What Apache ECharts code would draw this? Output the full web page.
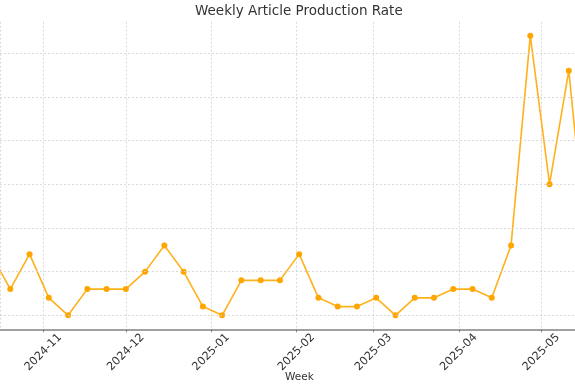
<!DOCTYPE html>
<html>
<head>
<meta charset="utf-8">
<script src="https://cdn.jsdelivr.net/npm/echarts@6/dist/echarts.min.js"></script>
<style>
html,body{margin:0;padding:0;background:#fff;}
#chart{width:575px;height:390px;}
</style>
</head>
<body>
<div id="chart"></div>
<script>
// Week-ending dates (Sundays) and article counts per week
const weeks = ['2024-10-13','2024-10-20','2024-10-27','2024-11-03','2024-11-10','2024-11-17','2024-11-24',
  '2024-12-01','2024-12-08','2024-12-15','2024-12-22','2024-12-29','2025-01-05','2025-01-12','2025-01-19',
  '2025-01-26','2025-02-02','2025-02-09','2025-02-16','2025-02-23','2025-03-02','2025-03-09','2025-03-16',
  '2025-03-23','2025-03-30','2025-04-06','2025-04-13','2025-04-20','2025-04-27','2025-05-04','2025-05-11','2025-05-18'];
const articles = [7,3,7,2,0,3,3,3,5,8,5,1,0,4,4,4,7,2,1,1,2,0,2,2,3,3,2,8,32,15,28,6];
const gridValues = [0,5,10,15,20,25,30];
const titleText = 'Weekly Article Production Rate';
const xLabel = 'Week';

const DAY = 86400000;
const ref = new Date(2024,10,1).getTime();
const xMin = ref - 15.74*DAY;
const xMax = ref + 193.25*DAY;

const chart = echarts.init(document.getElementById('chart'), null, {renderer:'canvas'});
chart.setOption({
  animation:false,
  backgroundColor:'#fff',
  title:[
    {text:titleText, left:195, top:4, padding:0, textStyle:{fontFamily:'DejaVu Sans', fontSize:13.5, fontWeight:'normal', color:'#333'}},
    {text:xLabel, left:285, top:372, padding:0, textStyle:{fontFamily:'DejaVu Sans', fontSize:10.5, fontWeight:'normal', color:'#333'}}
  ],
  grid:{left:0, right:0, top:21.7, bottom:60.7, containLabel:false},
  xAxis:{
    type:'time', min:xMin, max:xMax,
    minInterval:28*DAY, maxInterval:31*DAY,
    axisLine:{onZero:false, lineStyle:{color:'#808080', width:1.5}},
    axisTick:{show:true, length:3, lineStyle:{color:'#808080'}},
    axisLabel:{formatter:'{yyyy}-{MM}', rotate:45, align:'center', verticalAlign:'middle', margin:23,
      fontFamily:'DejaVu Sans', fontSize:11.25, color:'#333', showMinLabel:false, showMaxLabel:false, hideOverlap:false},
    splitLine:{show:true, lineStyle:{color:'#d0d0d0', type:[2,2], width:0.8}}
  },
  yAxis:{
    type:'value', min:-1.6, max:33.6,
    axisLine:{show:false}, axisTick:{show:false}, axisLabel:{show:false}, splitLine:{show:false}
  },
  series:[{
    type:'line',
    data: weeks.map((w,i)=>[w, articles[i]]),
    clip:true,
    symbol:'circle', symbolSize:6,
    itemStyle:{color:'#FFA500'},
    lineStyle:{color:'#FFB11B', width:1.6},
    markLine:{
      silent:true, symbol:'none', animation:false,
      label:{show:false},
      lineStyle:{color:'#d0d0d0', type:[2,2], width:0.8},
      data: gridValues.map(v=>({yAxis:v}))
    },
    z:3
  }]
});
</script>
</body>
</html>
